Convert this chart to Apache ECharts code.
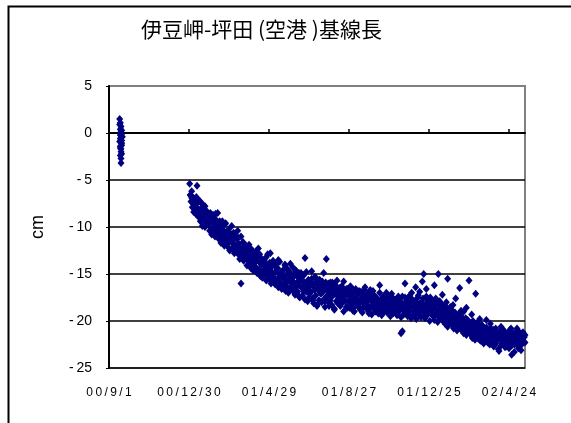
<!DOCTYPE html>
<html><head><meta charset="utf-8">
<script src="https://cdn.jsdelivr.net/npm/echarts@6/dist/echarts.min.js"></script>
<style>html,body{margin:0;padding:0;background:#fff}#c{width:571px;height:423px}</style>
</head><body><div id="c"></div>
<script>
// Title / axis texts
const titleText = '伊豆岬-坪田 (空港 )基線長';
const yName = 'cm';
// x tick labels every 120 days from 00/9/1 (day 0)
const tickLabels = ['00/9/1', '00/12/30', '01/4/29', '01/8/27', '01/12/25', '02/4/24'];
const yTicks = [-25, -20, -15, -10, -5, 0, 5];

// Early cluster (days since 00/9/1, cm)
const earlyDays = [16,16,17,17,17,18,18,18,19,19,19,20,16,17,18,19,18,17,18,19,18,17,18,19,18,17,18];
const earlyVals = [1.5,0.9,1.1,0.4,-0.2,0.7,0.0,-0.5,0.3,-0.8,-1.1,-0.4,-0.9,-1.4,-1.7,-1.3,-2.0,-2.4,-2.7,-2.2,-3.2,-0.6,0.2,-0.1,-1.0,-1.6,-0.3];

// Daily solutions starting day 121 (00/12/31)
const dailyStart = 121;
const dailyVals = [
-5.4,-6.6,-7.3,-6.2,-7.9,-6.9,-8.4,-7.0,-7.7,-8.6,-6.8,-8.1,-7.4,-8.9,
-8.3,-7.2,-9.4,-8.0,-8.8,-9.9,-7.6,-9.1,-8.5,-10.0,-8.2,-9.6,-8.9,-9.3,
-9.8,-8.6,-10.4,-9.3,-9.0,-10.8,-9.5,-8.7,-10.1,-9.7,-11.0,-9.2,-10.3,-9.6,
-8.5,-10.6,-11.3,-9.8,-10.2,-11.7,-10.9,-9.4,-11.0,-10.4,-12.0,-10.7,-9.6,-11.5,
-11.2,-12.1,-10.3,-11.6,-12.5,-10.9,-11.4,-9.9,-12.3,-11.8,-10.6,-12.8,-11.1,-12.0,
-12.6,-11.3,-10.4,-12.9,-11.8,-13.4,-12.2,-11.0,-13.0,-12.5,-11.6,-13.6,-12.1,-12.8,
-13.2,-12.0,-14.1,-12.7,-13.5,-11.9,-13.9,-13.0,-14.4,-12.4,-13.7,-14.6,-12.9,-13.4,
-14.2,-12.6,-13.6,-14.9,-13.1,-12.3,-14.5,-13.8,-15.2,-13.3,-14.0,-15.4,-13.7,-14.7,
-13.5,-15.0,-14.3,-15.7,-14.0,-12.9,-14.8,-15.5,-13.8,-14.6,-16.0,-14.2,-15.2,-13.6,
-15.3,-14.1,-16.1,-14.7,-13.9,-15.6,-14.4,-16.4,-15.0,-13.7,-15.9,-14.9,-16.6,-15.2,
-14.6,-16.2,-15.4,-14.0,-16.8,-15.1,-15.8,-14.5,-17.0,-15.6,-14.8,-16.5,-15.3,-16.0,
-15.7,-14.3,-16.6,-15.0,-17.2,-16.1,-14.7,-15.9,-16.9,-15.4,-14.9,-17.5,-16.3,-15.5,
-16.4,-17.3,-15.2,-16.8,-15.9,-17.7,-16.1,-14.8,-16.6,-17.9,-15.6,-16.3,-17.1,-15.8,
-16.9,-15.5,-17.6,-16.2,-18.1,-16.7,-15.3,-17.3,-16.0,-18.4,-16.5,-15.7,-17.8,-16.4,
-17.0,-16.1,-18.0,-15.8,-16.9,-17.7,-16.3,-18.5,-15.9,-17.4,-16.6,-17.9,-16.0,-17.2,
-16.4,-17.8,-16.9,-18.3,-15.9,-17.3,-16.6,-18.7,-17.1,-16.2,-17.9,-16.8,-18.1,-17.4,
-17.6,-16.5,-18.4,-17.0,-16.3,-18.0,-17.3,-19.0,-16.7,-17.9,-16.9,-18.5,-17.2,-16.6,
-17.9,-16.8,-18.6,-17.4,-16.4,-18.2,-17.1,-18.9,-16.9,-17.7,-18.4,-16.6,-17.5,-18.1,
-17.2,-18.5,-16.8,-17.9,-18.8,-16.9,-17.6,-19.1,-17.3,-18.2,-16.7,-17.8,-18.6,-17.4,
-18.3,-17.1,-18.9,-17.7,-16.9,-18.5,-17.4,-19.3,-17.9,-16.8,-18.7,-17.6,-18.1,-19.0,
-17.5,-18.6,-17.9,-19.2,-18.2,-17.0,-18.8,-17.7,-19.4,-18.0,-17.4,-18.5,-19.0,-17.8,
-18.4,-17.6,-19.1,-18.0,-17.3,-18.9,-18.3,-19.5,-17.8,-18.6,-17.5,-19.2,-18.1,-18.7,
-17.7,-18.9,-18.2,-19.4,-17.6,-18.5,-19.0,-17.9,-18.7,-19.6,-18.1,-17.4,-18.8,-19.3,
-18.3,-17.5,-19.1,-18.6,-17.8,-19.5,-18.0,-18.9,-17.3,-18.4,-19.7,-18.2,-17.7,-19.0,
-18.6,-19.4,-17.9,-18.3,-19.8,-18.1,-17.5,-19.2,-18.7,-16.9,-18.4,-19.6,-18.0,-18.9,
-17.6,-19.0,-18.5,-19.7,-18.2,-17.4,-18.8,-19.3,-17.9,-18.6,-20.0,-18.3,-17.7,-19.1,
-18.7,-19.5,-18.0,-19.9,-18.4,-17.6,-19.2,-18.9,-20.1,-18.2,-19.6,-17.9,-18.8,-19.4,
-19.0,-18.3,-20.0,-19.5,-18.7,-20.3,-19.2,-18.5,-19.8,-20.6,-18.9,-19.6,-20.2,-19.3,
-19.7,-20.4,-18.9,-19.4,-20.8,-19.9,-19.1,-20.5,-19.6,-21.0,-20.2,-19.3,-20.7,-19.8,
-20.3,-19.5,-21.0,-20.6,-19.8,-21.3,-20.1,-20.8,-19.7,-21.5,-20.4,-21.1,-20.0,-20.7,
-20.9,-20.2,-21.5,-20.6,-21.8,-20.0,-21.2,-20.7,-22.0,-21.0,-20.4,-21.6,-20.8,-21.9,
-21.3,-20.6,-22.1,-21.0,-20.4,-21.8,-21.5,-22.4,-20.9,-21.2,-22.0,-20.7,-21.6,-22.3,
-21.0,-21.9,-22.5,-20.8,-21.4,-22.2,-21.7,-20.9,-22.7,-21.3,-21.9,-22.4,-21.1,-21.6,
-22.0,-21.4,-23.2,-21.8,-21.1,-22.6,-21.6,-22.3,-20.9,-22.0,-21.5,-22.8,-21.3,-22.1,
-21.7,-22.4,-21.2,-22.9,-21.5,-22.1,-20.8,-22.6,-21.9,-21.3,-22.2,-23.3,-21.6,-22.0,
-21.4,-22.3,-21.8,-21.1,-22.7,-21.6,-22.0,-21.3,-22.5,-21.9,-21.2,-22.2,-21.7,-21.5
];

// Second set of solutions every 2 days starting day 122
const extraStart = 122;
const extraVals = [
-6.6,-6.9,-7.5,-7.0,-7.8,-5.6,-8.2,-7.3,-8.7,-8.0,-9.2,-7.8,-8.4,-9.0,
-9.6,-8.5,-10.2,-9.1,-10.6,-8.6,-9.8,-10.8,-9.4,-10.0,-11.3,-10.4,-9.7,-11.0,
-11.6,-10.5,-11.2,-12.3,-10.9,-11.8,-12.6,-11.0,-12.1,-12.8,-16.0,-12.4,-13.2,-12.0,
-12.7,-13.5,-12.3,-14.0,-13.0,-12.6,-13.8,-14.3,-13.2,-14.6,-12.9,-13.7,-14.8,-14.0,
-14.5,-13.2,-15.1,-14.2,-12.8,-14.9,-15.5,-14.0,-15.8,-14.4,-13.5,-15.2,-16.2,-14.7,
-15.5,-14.1,-15.9,-16.4,-14.8,-13.9,-15.7,-16.8,-15.2,-14.6,-16.3,-17.3,-15.8,-14.9,
-16.5,-15.1,-13.3,-16.9,-15.8,-17.5,-16.2,-14.7,-17.8,-16.0,-15.4,-18.3,-16.7,-15.6,
-17.1,-16.4,-14.9,-17.9,-13.4,-16.8,-18.4,-15.9,-17.3,-16.2,-18.8,-17.0,-15.7,-17.6,
-16.9,-18.2,-17.4,-15.8,-17.8,-16.6,-18.6,-17.1,-16.3,-18.0,-17.5,-19.0,-16.8,-17.7,
-18.3,-16.9,-17.6,-18.7,-17.2,-16.4,-18.1,-17.8,-19.2,-16.7,-17.9,-18.5,-17.3,-18.8,
-17.7,-18.6,-16.2,-18.2,-19.0,-17.5,-18.4,-17.0,-18.8,-17.9,-18.7,-17.1,-18.9,-18.3,
-18.0,-19.1,-17.4,-18.5,-21.3,-21.1,-18.2,-16.0,-18.9,-17.6,-19.3,-18.4,-17.0,-18.1,
-18.6,-16.4,-19.0,-17.3,-18.1,-18.8,-15.8,-15.0,-19.4,-16.6,-17.8,-18.9,-17.5,-19.2,
-18.4,-16.2,-19.3,-17.8,-15.0,-18.7,-19.6,-17.2,-18.9,-19.8,-18.0,-15.5,-19.1,-18.5,
-19.7,-18.3,-20.1,-17.6,-19.4,-20.5,-16.5,-18.9,-20.3,-19.0,-20.8,-18.6,-19.9,-15.7,
-20.6,-19.3,-20.9,-21.4,-17.1,-20.2,-21.0,-19.8,-21.6,-20.5,-22.1,-20.9,-19.9,-21.3,
-21.5,-20.3,-22.0,-21.1,-22.6,-20.8,-21.7,-23.0,-21.3,-20.6,-22.4,-21.0,-21.9,-22.7,
-21.4,-22.2,-20.9,-23.6,-21.8,-22.5,-21.2,-20.8,-22.9,-21.6,-23.1,-22.0,-21.4,-22.3
];

const points = [];
earlyDays.forEach((d, i) => points.push([d, earlyVals[i]]));
dailyVals.forEach((v, i) => points.push([dailyStart + i, v]));
extraVals.forEach((v, i) => points.push([extraStart + 2 * i, v]));

const chart = echarts.init(document.getElementById('c'), null, {renderer: 'canvas'});
const spaced = s => s.split('').join('\u2009');
chart.setOption({
  animation: false,
  backgroundColor: '#fff',
  textStyle: {fontFamily: 'Liberation Sans, Arial, sans-serif'},
  graphic: [{
    type: 'rect', left: 6, top: 4, silent: true,
    shape: {x: 0, y: 0, width: 620, height: 480},
    style: {fill: 'none', stroke: '#000', lineWidth: 2}
  }],
  title: {
    text: titleText, left: 136, top: 14,
    textStyle: {fontFamily: 'Noto Sans CJK JP, sans-serif', fontSize: 21, fontWeight: 'normal', color: '#000'}
  },
  grid: {left: 109, right: 46, top: 86, bottom: 55, show: true, borderColor: '#808080', borderWidth: 2, backgroundColor: '#fff'},
  xAxis: {
    type: 'value', min: 0, max: 624, interval: 120,
    axisLine: {lineStyle: {color: '#000', width: 2}},
    axisTick: {inside: true, length: 4, lineStyle: {color: '#000', width: 1.5}},
    splitLine: {show: false},
    axisLabel: {
      showMaxLabel: false, margin: 19, fontSize: 12, color: '#000',
      formatter: v => (v % 120 === 0 && tickLabels[v / 120] !== undefined) ? spaced(tickLabels[v / 120]) : ''
    }
  },
  yAxis: {
    type: 'value', min: yTicks[0], max: yTicks[yTicks.length - 1], interval: 5,
    name: yName, nameLocation: 'middle', nameGap: 62, nameRotate: 90,
    nameTextStyle: {fontSize: 18, color: '#000'},
    axisLine: {show: true, lineStyle: {color: '#000', width: 2}},
    axisTick: {show: true, length: 3, lineStyle: {color: '#000'}},
    splitLine: {show: true, lineStyle: {color: ['#000', '#000', '#000', '#000', '#000', '#000', '#808080'], width: 1.5}},
    axisLabel: {
      margin: 17, fontSize: 14, color: '#000',
      formatter: v => v < 0 ? '-\u2009' + Math.abs(v) : String(v)
    }
  },
  series: [{
    type: 'scatter', data: points, symbol: 'diamond', symbolSize: [7, 8],
    itemStyle: {color: '#000080', opacity: 1}
  }]
});
</script></body></html>
